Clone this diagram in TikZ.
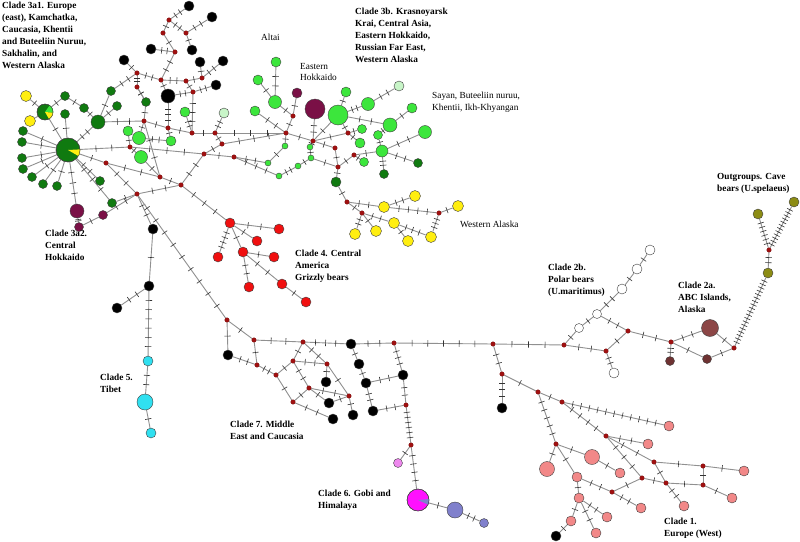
\documentclass[tikz,border=0pt]{standalone}
\usepackage{fontspec}
\setmainfont{Liberation Serif}
\usetikzlibrary{calc,backgrounds}
\definecolor{dkg}{HTML}{107A10}
\definecolor{lg}{HTML}{3CE63C}
\definecolor{pg}{HTML}{C8F5C8}
\definecolor{yl}{HTML}{FFEE10}
\definecolor{pu}{HTML}{7A1046}
\definecolor{rd}{HTML}{F01010}
\definecolor{cy}{HTML}{30E0F0}
\definecolor{sal}{HTML}{F28888}
\definecolor{mag}{HTML}{FF10FF}
\definecolor{lav}{HTML}{8080CC}
\definecolor{vio}{HTML}{EE88EE}
\definecolor{ol}{HTML}{8C8C14}
\definecolor{mr}{HTML}{8C4646}
\definecolor{mrd}{HTML}{6E3232}
\definecolor{mvc}{HTML}{A01010}
\definecolor{edgec}{HTML}{909090}
\definecolor{tickc}{HTML}{333333}
\tikzset{
 hp/.style={circle, draw=black!75, line width=0.4pt, inner sep=0pt, minimum size=#1},
 mv/.style={circle, fill=mvc, draw=mvc!70!black, line width=0.2pt, inner sep=0pt, minimum size=4.6pt},
 lnk/.style={draw=edgec, line width=0.9pt},
 tk/.style={draw=tickc, line width=0.6pt},
 lab/.style={anchor=north west, align=left, inner sep=0pt, font=\fontsize{9.3}{12}\selectfont\bfseries},
 labn/.style={anchor=north west, align=left, inner sep=0pt, font=\fontsize{9.3}{11.5}\selectfont},
}
\newcommand\HN[4]{\node[hp=#4pt, fill=#3] (#1) at (#2) {};}
\newcommand\MV[2]{\node[mv] (#1) at (#2) {};}
\newcommand\ED[3]{%
 \draw[lnk] (#1) -- (#2);
 \ifnum#3>0\relax
 \foreach \i in {1,...,#3}{%
   \pgfmathsetmacro\ff{\i/(#3+1)}%
   \path (#1) -- (#2) coordinate[pos=\ff] (tkp);
   \draw[tk] ($(tkp)!3.2pt!90:(#2)$) -- ($(tkp)!3.2pt!-90:(#2)$);
 }\fi}
\begin{document}
\begin{tikzpicture}[x=1pt,y=-1pt]
\useasboundingbox (0,0) rectangle (800,541);
% ---------------- clade 3a
\HN{G0}{68,150}{dkg}{24}
\HN{G1}{45,112}{dkg}{16}
\HN{Y1}{26,96}{yl}{11}
\HN{Y2}{30,121}{yl}{11}
\HN{d1}{23,131}{dkg}{9}
\HN{d2}{22,142}{dkg}{9}
\HN{d3}{22,158}{dkg}{9}
\HN{d4}{23,169}{dkg}{9}
\HN{d5}{32,177}{dkg}{9}
\HN{d6}{43,184}{dkg}{9}
\HN{d7}{57,186}{dkg}{9}
\HN{d8}{65,96}{dkg}{9}
\HN{d9}{65,114}{dkg}{9}
\HN{d10}{84,108}{dkg}{9}
\HN{d11}{98,122}{dkg}{14}
\HN{d12}{111,91}{dkg}{9}
\HN{d13}{117,106}{dkg}{9}
\HN{d14}{146,102}{dkg}{9}
\HN{d15}{100,181}{dkg}{9}
\HN{d16}{112,203}{dkg}{9}
\HN{P1}{77,211}{pu}{14}
\HN{P2}{79,227}{pu}{9}
\HN{P3}{103,215}{pu}{9}
\HN{L1}{128,131}{lg}{10}
\HN{L2}{139,138}{lg}{13}
\HN{L3}{141,157}{lg}{13}
\HN{L4}{171,141}{lg}{10}
\HN{L5}{185,112}{lg}{10}
\HN{L6}{224,113}{pg}{10}
% upper black group
\HN{b1}{189,6}{black}{10}
\HN{b2}{212,17}{black}{10}
\HN{b3}{151,49}{black}{10}
\HN{b4}{124,60}{black}{10}
\HN{b5}{192,50}{black}{10}
\HN{b6}{200,62}{black}{10}
\HN{b7}{223,61}{black}{10}
\HN{b8}{216,85}{black}{10}
\HN{b9}{168,96}{black}{14}
\MV{r1}{169,20} \MV{r2}{163,33} \MV{r3}{186,33} \MV{r4}{175,52} \MV{r5}{137,73}
\MV{r6}{137,87} \MV{r7}{161,80} \MV{r8}{186,81} \MV{r9}{193,92} \MV{r10}{202,78}
% core medians
\MV{m1}{144,121} \MV{m2}{168,128} \MV{m3}{192,133} \MV{m4}{130,147} \MV{m5}{106,163}
\MV{m6}{160,177} \MV{m8}{137,194} \MV{m9}{181,185} \MV{m10}{215,133} \MV{m11}{222,144}
\MV{m12}{204,154} \MV{m13}{234,157} \MV{m14}{286,133} \MV{m15}{293,116} \MV{m16}{313,141}
\MV{m17}{348,133} \MV{m18}{335,148} \MV{m19}{354,155} \MV{m20}{338,167} \MV{m21}{347,202}
\MV{m22}{362,213} \MV{m23}{439,213}
% clade 3b
\HN{A1}{276,62}{lg}{10}
\HN{A2}{275,102}{lg}{13}
\HN{A3}{258,80}{lg}{10}
\HN{A4}{255,111}{lg}{10}
\HN{EP}{297,93}{pu}{10}
\HN{PB}{315,109}{pu}{20}
\HN{BG}{338,115}{lg}{20}
\HN{g1}{346,92}{lg}{10}
\HN{g2}{368,104}{lg}{13}
\HN{g3}{399,86}{pg}{10}
\HN{g4}{412,108}{lg}{10}
\HN{g5}{390,125}{lg}{14}
\HN{g6}{425,132}{lg}{13}
\HN{g7}{362,129}{lg}{9}
\HN{g8}{378,135}{lg}{9}
\HN{g9}{360,143}{lg}{10}
\HN{g10}{382,151}{lg}{12}
\HN{g11}{364,162}{lg}{9}
\HN{D1}{336,182}{dkg}{10}
\HN{D2}{418,163}{dkg}{9}
\HN{D3}{384,174}{dkg}{9}
\HN{s1}{285,146}{lg}{6}
\HN{s2}{310,147}{lg}{6}
\HN{s3}{311,158}{lg}{6}
\HN{s4}{268,163}{lg}{6}
\HN{s5}{298,166}{lg}{6}
\HN{s6}{279,176}{lg}{6}
\HN{Ya}{384,207}{yl}{11}
\HN{Yb}{415,196}{yl}{11}
\HN{Yc}{394,223}{yl}{11}
\HN{Yd}{376,231}{yl}{11}
\HN{Ye}{355,234}{yl}{11}
\HN{Yf}{408,241}{yl}{11}
\HN{Yg}{431,237}{yl}{11}
\HN{Yh}{458,206}{yl}{11}
% clade 4
\HN{R1}{230,223}{rd}{10}
\HN{R2}{279,229}{rd}{10}
\HN{R3}{257,241}{rd}{10}
\HN{R4}{218,257}{rd}{10}
\HN{R5}{243,252}{rd}{10}
\HN{R6}{274,257}{rd}{10}
\HN{R7}{249,287}{rd}{10}
\HN{R8}{282,284}{rd}{10}
\HN{R9}{306,302}{rd}{10}
% clade 5 and blacks
\HN{K0}{153,229}{black}{10}
\HN{K6}{149,286}{black}{10}
\HN{K7}{117,308}{black}{10}
\HN{K1}{228,355}{black}{10}
\HN{C1}{148,361}{cy}{10}
\HN{C2}{145,402}{cy}{16}
\HN{C3}{151,433}{cy}{10}
% clade 7 / 6
\MV{n1}{227,320} \MV{n2}{254,340} \MV{n3}{303,342} \MV{n4}{327,364} \MV{n5}{293,361}
\MV{n6}{257,365} \MV{n7}{276,375} \MV{n8}{309,388} \MV{n9}{293,402} \MV{n10}{349,396}
\MV{n11}{394,343} \MV{n12}{406,405} \MV{n13}{411,445} \MV{n14}{493,344} \MV{n15}{564,345}
\MV{n16}{502,374}
\HN{K2}{326,382}{black}{10}
\HN{K3}{329,403}{black}{10}
\HN{K4}{333,419}{black}{10}
\HN{K5}{353,415}{black}{10}
\HN{BK}{351,344}{black}{10}
\HN{BK2}{359,364}{black}{10}
\HN{BK3}{366,383}{black}{10}
\HN{BK4}{373,411}{black}{10}
\HN{BK5}{403,375}{black}{10}
\HN{BKx}{502,408}{black}{10}
\HN{BKy}{556,536}{black}{10}
\HN{PK}{398,463}{vio}{9}
\HN{MG}{418,500}{mag}{22}
\HN{LV1}{455,510}{lav}{16}
\HN{LV2}{484,523}{lav}{9}
% clade 1
\MV{c1}{538,392} \MV{c2}{562,402} \MV{c3}{606,436} \MV{c4}{556,444} \MV{c5}{654,462}
\MV{c6}{642,478} \MV{c7}{703,466} \MV{c8}{703,485} \MV{c9}{666,483} \MV{c10}{612,492}
\HN{p1}{669,426}{sal}{10}
\HN{p2}{648,444}{sal}{10}
\HN{p3}{592,457}{sal}{15}
\HN{p4}{547,469}{sal}{15}
\HN{p5}{620,473}{sal}{10}
\HN{p6}{577,477}{sal}{10}
\HN{p7}{744,471}{sal}{10}
\HN{p8}{579,498}{sal}{10}
\HN{p9}{684,506}{sal}{10}
\HN{p10}{732,498}{sal}{10}
\HN{p11}{641,508}{sal}{10}
\HN{p12}{607,517}{sal}{10}
\HN{p13}{571,521}{sal}{10}
\HN{p14}{596,533}{sal}{10}
% clade 2 and outgroups
\MV{Rp}{606,351} \MV{Rq}{628,331} \MV{Rv}{671,342} \MV{Rw}{734,348} \MV{Rx}{769,250}
\HN{W1}{614,373}{white}{10}
\HN{W2}{579,328}{white}{9}
\HN{W3}{597,314}{white}{9}
\HN{W4}{622,289}{white}{10}
\HN{W5}{637,269}{white}{10}
\HN{W6}{650,250}{white}{10}
\HN{MB}{710,328}{mr}{17}
\HN{Mm1}{670,361}{mrd}{9}
\HN{Mm2}{707,359}{mrd}{9}
\HN{Ol1}{768,273}{ol}{10}
\HN{Ol2}{758,214}{ol}{10}
\HN{Ol3}{794,202}{ol}{10}
% pie slices
\fill[yl] (G0.center) -- (G0.-30) -- (G0.-22) -- (G0.-14) -- (G0.-6) -- (G0.3) -- cycle;
\node[hp=24pt] (G0o) at (G0) {};
\fill[lg] (G1.center) -- (G1.-5) -- (G1.10) -- (G1.25) -- (G1.40) -- (G1.55) -- cycle;
\fill[yl] (G1.center) -- (G1.-60) -- (G1.-45) -- (G1.-30) -- (G1.-15) -- (G1.-5) -- cycle;
\node[hp=16pt] (G1o) at (G1) {};
\fill[lav] (MG.center) -- (MG.-25) -- (MG.-15) -- (MG.-5) -- (MG.5) -- cycle;
\node[hp=22pt] (MGo) at (MG) {};
% ---------------- connectors
\begin{pgfonlayer}{background}
\fill[white] (0,0) rectangle (800,541);
\ED{G0}{d1}{1} \ED{G0}{d2}{1} \ED{G0}{d3}{1} \ED{G0}{d4}{1} \ED{G0}{d5}{1} \ED{G0}{d6}{1} \ED{G0}{d7}{1}
\ED{G0}{G1}{1} \ED{G1}{Y1}{1} \ED{G1}{Y2}{0} \ED{G1}{d8}{1} \ED{d8}{d10}{1} \ED{G0}{d9}{1}
\ED{G0}{d11}{2} \ED{d11}{d10}{1} \ED{d11}{d12}{1} \ED{d11}{d13}{1} \ED{d11}{m1}{2} \ED{d12}{r5}{2}
\ED{d14}{r6}{1} \ED{d14}{m1}{1}
\ED{G0}{m4}{2} \ED{G0}{m5}{1} \ED{G0}{d15}{2} \ED{G0}{d16}{3} \ED{d16}{m8}{1} \ED{G0}{P1}{3}
\ED{P1}{P2}{2} \ED{P2}{P3}{1} \ED{P3}{m8}{2}
\ED{m4}{L3}{1} \ED{m4}{L1}{1} \ED{L2}{m1}{1} \ED{L2}{L4}{2} \ED{m2}{L4}{1} \ED{m3}{L5}{2}
\ED{m10}{L6}{2} \ED{L1}{L2}{0}
\ED{m1}{m2}{1} \ED{m2}{m3}{1} \ED{m3}{m10}{1} \ED{m10}{m14}{3} \ED{m10}{m11}{1} \ED{m11}{m14}{3}
\ED{m11}{m12}{1} \ED{m12}{m13}{1} \ED{m4}{m12}{3} \ED{m5}{m6}{2} \ED{L3}{m6}{1} \ED{m1}{m6}{2}
\ED{m6}{m9}{1} \ED{m5}{m8}{2} \ED{m8}{m9}{2} \ED{m9}{m12}{2}
\ED{m13}{s4}{2} \ED{m13}{s6}{3} \ED{s6}{s5}{2} \ED{s4}{s1}{1} \ED{s1}{m14}{1} \ED{m14}{m16}{1}
\ED{m16}{s2}{1} \ED{s2}{s3}{1} \ED{s3}{m20}{1} \ED{s5}{s3}{1}
\ED{m14}{m15}{1} \ED{m15}{A2}{1} \ED{A2}{A1}{2} \ED{A2}{A3}{1} \ED{m14}{A4}{2} \ED{m15}{EP}{1}
\ED{m16}{PB}{2} \ED{m16}{BG}{1} \ED{m16}{m17}{1} \ED{m16}{m18}{1} \ED{m18}{m20}{1} \ED{m20}{m19}{1}
\ED{m20}{D1}{1} \ED{D1}{m21}{1} \ED{BG}{m17}{1} \ED{BG}{g1}{1} \ED{BG}{g2}{2} \ED{g2}{g3}{2}
\ED{BG}{g5}{2} \ED{g5}{g4}{1} \ED{m17}{g7}{1} \ED{m17}{g9}{1} \ED{m19}{g11}{1} \ED{g5}{g8}{1}
\ED{g8}{g10}{1} \ED{g10}{g6}{2} \ED{g10}{D2}{2} \ED{g10}{D3}{2} \ED{m19}{g10}{1}
\ED{m21}{m22}{1} \ED{m21}{Ya}{2} \ED{Ya}{Yb}{2} \ED{Ya}{m23}{4} \ED{m23}{Yh}{1} \ED{m23}{Yg}{3}
\ED{m22}{Yc}{2} \ED{Yc}{Yg}{3} \ED{m22}{Yd}{1} \ED{m22}{Ye}{2} \ED{Yc}{Yf}{1}
\ED{b1}{r1}{2} \ED{r1}{r2}{1} \ED{r1}{r3}{2} \ED{b2}{r3}{2} \ED{r2}{r4}{1} \ED{r3}{b5}{1}
\ED{r4}{b3}{2} \ED{r4}{r7}{2} \ED{b4}{r5}{1} \ED{r5}{r6}{2} \ED{r5}{r7}{2} \ED{r6}{d14}{1}
\ED{r7}{b9}{1} \ED{r7}{r8}{2} \ED{r8}{r10}{1} \ED{r10}{b6}{1} \ED{r10}{b7}{2} \ED{r8}{r9}{1}
\ED{r9}{b8}{2} \ED{r9}{b9}{2} \ED{r9}{m3}{3} \ED{b9}{m2}{3}
\ED{m9}{R1}{3} \ED{R1}{R2}{2} \ED{R1}{R3}{1} \ED{R1}{R4}{4} \ED{R1}{R5}{1} \ED{R5}{R6}{1}
\ED{R5}{R7}{2} \ED{R5}{R8}{2} \ED{R8}{R9}{1}
\ED{m8}{K0}{2} \ED{K0}{K6}{1} \ED{K6}{K7}{2} \ED{K6}{C1}{6} \ED{C1}{C2}{2} \ED{C2}{C3}{1}
\ED{m8}{n1}{9} \ED{n1}{K1}{1} \ED{n1}{n2}{1}
\ED{n2}{n3}{2} \ED{n3}{BK}{3} \ED{BK}{n11}{2} \ED{BK}{BK2}{1} \ED{BK2}{BK3}{1} \ED{BK3}{BK4}{2}
\ED{BK3}{BK5}{2} \ED{BK4}{n12}{2} \ED{n11}{BK5}{3} \ED{BK5}{n12}{2} \ED{n12}{n13}{6}
\ED{n13}{PK}{1} \ED{n13}{MG}{4} \ED{MG}{LV1}{1} \ED{LV1}{LV2}{2}
\ED{K1}{n6}{2} \ED{n2}{n6}{1} \ED{n6}{n7}{2} \ED{n7}{n5}{1} \ED{n5}{n3}{1} \ED{n5}{n8}{2}
\ED{n7}{n9}{1} \ED{n9}{n8}{1} \ED{n5}{n4}{2} \ED{n3}{n4}{2} \ED{n4}{n10}{1} \ED{n4}{K2}{1}
\ED{n8}{K3}{1} \ED{K3}{n10}{1} \ED{n9}{K4}{2} \ED{n10}{K5}{1} \ED{n8}{n10}{2}
\ED{n11}{n14}{5} \ED{n14}{n15}{3} \ED{n14}{n16}{2} \ED{n16}{BKx}{3}
\ED{n16}{c1}{1} \ED{c1}{c2}{1} \ED{c2}{p1}{11} \ED{c2}{c3}{4} \ED{c1}{c4}{5} \ED{c3}{p2}{2}
\ED{c3}{c5}{2} \ED{c3}{c6}{3} \ED{c5}{c7}{1} \ED{c7}{p7}{1} \ED{c7}{c8}{1} \ED{c6}{c9}{1}
\ED{c9}{c8}{1} \ED{c5}{c9}{1} \ED{c9}{p9}{2} \ED{c8}{p10}{1} \ED{c6}{c10}{1} \ED{c10}{p6}{2}
\ED{c10}{p11}{2} \ED{c4}{p3}{1} \ED{p3}{p5}{1} \ED{c4}{p4}{1} \ED{c4}{p6}{1} \ED{p6}{p8}{1}
\ED{p8}{p12}{2} \ED{p8}{p14}{2} \ED{p8}{p13}{1} \ED{p13}{BKy}{1}
\ED{n15}{Rp}{2} \ED{Rp}{W1}{2} \ED{Rp}{Rq}{1} \ED{n15}{W2}{1} \ED{W2}{W3}{1} \ED{W3}{W4}{2}
\ED{W4}{W5}{1} \ED{W5}{W6}{1} \ED{W3}{Rq}{2} \ED{Rq}{Rv}{2} \ED{Rv}{MB}{2} \ED{MB}{Rw}{1}
\ED{Rv}{Mm1}{2} \ED{Rv}{Mm2}{1} \ED{Mm2}{Rw}{1} \ED{Rw}{Ol1}{19} \ED{Ol1}{Rx}{2}
\ED{Rx}{Ol2}{6} \ED{Rx}{Ol3}{12}
\end{pgfonlayer}
% ---------------- labels
\node[lab] (t1) at (2,2) {Clade 3a1. Europe\\(east), Kamchatka,\\Caucasia, Khentii\\and Buteeliin Nuruu,\\Sakhalin, and\\Western Alaska};
\node[lab] (t2) at (45,230) {Clade 3a2.\\Central\\Hokkaido};
\node[labn] (t3) at (261,34) {Altai};
\node[labn] (t4) at (300,63) {Eastern\\Hokkaido};
\node[lab] (t5) at (355,8) {Clade 3b. Krasnoyarsk\\Krai, Central Asia,\\Eastern Hokkaido,\\Russian Far East,\\Western Alaska};
\node[labn] (t6) at (432,92) {Sayan, Buteeliin nuruu,\\Khentii, Ikh-Khyangan};
\node[labn] (t7) at (460,221) {Western Alaska};
\node[lab] (t8) at (295,250) {Clade 4. Central\\America\\Grizzly bears};
\node[lab] (t9) at (548,264) {Clade 2b.\\Polar bears\\(U.maritimus)};
\node[lab] (t10) at (678,282) {Clade 2a.\\ABC Islands,\\Alaska};
\node[lab] (t11) at (717,173) {Outgroups. Cave\\bears (U.spelaeus)};
\node[lab] (t12) at (100,374) {Clade 5.\\Tibet};
\node[lab] (t13) at (230,421) {Clade 7. Middle\\East and Caucasia};
\node[lab] (t14) at (318,490) {Clade 6. Gobi and\\Himalaya};
\node[lab] (t15) at (664,518) {Clade 1.\\Europe (West)};
\end{tikzpicture}
\end{document}
